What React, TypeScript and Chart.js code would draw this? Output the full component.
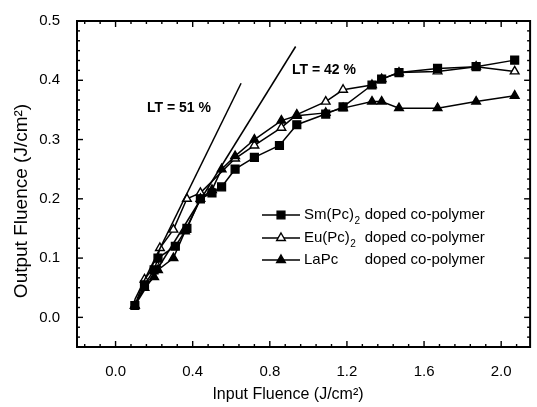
import React, { useEffect, useRef } from "react";
import { Chart, registerables } from "chart.js";

Chart.register(...registerables);

// ---------- data ----------
const smX = [0.1, 0.15, 0.2, 0.22, 0.31, 0.37, 0.44, 0.5, 0.55, 0.62, 0.72, 0.85, 0.94, 1.09, 1.18, 1.33, 1.38, 1.47, 1.67, 1.87, 2.07];
const smY = [0.02, 0.055, 0.08, 0.1, 0.12, 0.15, 0.2, 0.21, 0.22, 0.25, 0.27, 0.29, 0.325, 0.343, 0.355, 0.392, 0.402, 0.413, 0.42, 0.423, 0.434];

const euX = [0.1, 0.15, 0.21, 0.23, 0.3, 0.37, 0.44, 0.62, 0.72, 0.86, 0.94, 1.09, 1.18, 1.33, 1.38, 1.47, 1.67, 1.87, 2.07];
const euY = [0.02, 0.064, 0.09, 0.117, 0.148, 0.2, 0.21, 0.268, 0.29, 0.32, 0.342, 0.364, 0.384, 0.392, 0.402, 0.413, 0.415, 0.423, 0.415];

const laX = [0.1, 0.15, 0.2, 0.22, 0.3, 0.36, 0.44, 0.5, 0.55, 0.62, 0.72, 0.86, 0.94, 1.09, 1.18, 1.33, 1.38, 1.47, 1.67, 1.87, 2.07];
const laY = [0.02, 0.05, 0.068, 0.08, 0.1, 0.145, 0.2, 0.215, 0.25, 0.272, 0.3, 0.332, 0.34, 0.345, 0.353, 0.364, 0.364, 0.353, 0.353, 0.364, 0.374];

const lt51X = [0.1, 0.651];
const lt51Y = [0.03, 0.395];
const lt42X = [0.1, 0.934];
const lt42Y = [0.02, 0.457];

const xTicks = [0, 0.4, 0.8, 1.2, 1.6, 2.0];
const yTicks = [0, 0.1, 0.2, 0.3, 0.4, 0.5];
const xMinorStep = 0.08;
const yMinorStep = 0.1 / 6;

const xTitle = "Input Fluence (J/cm²)";
const yTitle = "Output Fluence (J/cm²)";
const lt51Label = "LT = 51 %";
const lt42Label = "LT = 42 %";
const legendNames = ["Sm(Pc)", "Eu(Pc)", "LaPc"];
const legendSubs = ["2", "2", ""];
const legendSuffix = "doped co-polymer";

const FONT = '"Liberation Sans", Arial, Helvetica, sans-serif';

function pts(xs: number[], ys: number[]) {
  return xs.map((x, i) => ({ x, y: ys[i] }));
}

function drawMarker(ctx: CanvasRenderingContext2D, style: string, x: number, y: number, r: number, fill: string) {
  ctx.save();
  ctx.beginPath();
  if (style === "rect") {
    const s = Math.SQRT1_2 * r;
    ctx.rect(x - s, y - s, 2 * s, 2 * s);
  } else {
    let rad = 0;
    const T = (2 * Math.PI) / 3;
    ctx.moveTo(x + Math.sin(rad) * r, y - Math.cos(rad) * r);
    rad += T;
    ctx.lineTo(x + Math.sin(rad) * r, y - Math.cos(rad) * r);
    rad += T;
    ctx.lineTo(x + Math.sin(rad) * r, y - Math.cos(rad) * r);
    ctx.closePath();
  }
  ctx.fillStyle = fill;
  ctx.fill();
  ctx.lineWidth = 1.4;
  ctx.strokeStyle = "#000";
  ctx.stroke();
  ctx.restore();
}

const decorPlugin = {
  id: "decor",
  afterDraw(chart: any) {
    const { ctx, chartArea } = chart;
    const xs = chart.scales.x;
    const ys = chart.scales.y;
    const { left, right, top, bottom } = chartArea;
    ctx.save();
    ctx.strokeStyle = "#000";
    ctx.fillStyle = "#000";

    // frame
    ctx.lineWidth = 2;
    ctx.strokeRect(left, top, right - left, bottom - top);

    // ticks (inward, all four sides)
    ctx.lineWidth = 1.4;
    const majorLen = 6;
    const minorLen = 3;
    const tick = (x1: number, y1: number, x2: number, y2: number) => {
      ctx.beginPath();
      ctx.moveTo(x1, y1);
      ctx.lineTo(x2, y2);
      ctx.stroke();
    };
    const isMajor = (v: number, arr: number[]) => arr.some((m) => Math.abs(m - v) < 1e-6);
    for (let k = -10; k < 60; k++) {
      const v = k * xMinorStep;
      if (v < xs.min - 1e-9 || v > xs.max + 1e-9) continue;
      const px = xs.getPixelForValue(v);
      const len = isMajor(v, xTicks) ? majorLen : minorLen;
      tick(px, bottom, px, bottom - len);
      tick(px, top, px, top + len);
    }
    for (let k = -10; k < 60; k++) {
      const v = k * yMinorStep;
      if (v < ys.min - 1e-9 || v > ys.max + 1e-9) continue;
      const py = ys.getPixelForValue(v);
      const len = isMajor(v, yTicks) ? majorLen : minorLen;
      tick(left, py, left + len, py);
      tick(right, py, right - len, py);
    }

    // axis titles
    ctx.textAlign = "center";
    ctx.textBaseline = "middle";
    ctx.font = `16px ${FONT}`;
    ctx.fillText(xTitle, 288, 395);
    ctx.save();
    ctx.translate(22, 201);
    ctx.rotate(-Math.PI / 2);
    ctx.font = `19px ${FONT}`;
    ctx.fillText(yTitle, 0, 0);
    ctx.restore();

    // LT labels
    ctx.font = `bold 14px ${FONT}`;
    ctx.textAlign = "left";
    ctx.fillText(lt51Label, 147, 108);
    ctx.fillText(lt42Label, 292, 70);

    // legend
    const markers = [
      { style: "rect", fill: "#000", r: 5.5 },
      { style: "triangle", fill: "#fff", r: 5 },
      { style: "triangle", fill: "#000", r: 5 },
    ];
    const rowsY = [215, 238, 260];
    const lineX1 = 262;
    const lineX2 = 300;
    const textX = 304;
    const subFont = `10px ${FONT}`;
    let suffixX = 0;
    legendNames.forEach((n, i) => {
      ctx.font = `15px ${FONT}`;
      let w = ctx.measureText(n).width;
      if (legendSubs[i]) {
        ctx.font = subFont;
        w += ctx.measureText(legendSubs[i]).width + 1;
      }
      ctx.font = `15px ${FONT}`;
      w += ctx.measureText(" ").width;
      suffixX = Math.max(suffixX, textX + w);
    });
    legendNames.forEach((n, i) => {
      const y = rowsY[i];
      ctx.lineWidth = 1.5;
      tick(lineX1, y, lineX2, y);
      drawMarker(ctx, markers[i].style, (lineX1 + lineX2) / 2, y, markers[i].r, markers[i].fill);
      ctx.fillStyle = "#000";
      ctx.textBaseline = "middle";
      ctx.font = `15px ${FONT}`;
      ctx.fillText(n, textX, y);
      const nw = ctx.measureText(n).width;
      if (legendSubs[i]) {
        ctx.font = subFont;
        ctx.fillText(legendSubs[i], textX + nw + 0.5, y + 6);
      }
      ctx.font = `15px ${FONT}`;
      ctx.fillText(legendSuffix, suffixX, y);
    });

    ctx.restore();
  },
};

export default function App() {
  const ref = useRef<HTMLCanvasElement | null>(null);

  useEffect(() => {
    document.body.style.margin = "0";
    if (!ref.current) return;
    const lineDs = (label: string, data: any[], style: string, fill: string, r: number) => ({
      label,
      data,
      showLine: true,
      borderColor: "#000",
      borderWidth: 1.5,
      pointStyle: style,
      pointRadius: r,
      pointBackgroundColor: fill,
      pointBorderColor: "#000",
      pointBorderWidth: 1.4,
      backgroundColor: fill,
      tension: 0,
    });
    const chart = new Chart(ref.current, {
      type: "scatter",
      data: {
        datasets: [
          { label: "LT51", data: pts(lt51X, lt51Y), showLine: true, borderColor: "#000", borderWidth: 1.5, pointRadius: 0 } as any,
          { label: "LT42", data: pts(lt42X, lt42Y), showLine: true, borderColor: "#000", borderWidth: 1.5, pointRadius: 0 } as any,
          lineDs("LaPc doped co-polymer", pts(laX, laY), "triangle", "#000", 5),
          lineDs("Sm(Pc)2 doped co-polymer", pts(smX, smY), "rect", "#000", 5.5),
          lineDs("Eu(Pc)2 doped co-polymer", pts(euX, euY), "triangle", "#fff", 5),
        ],
      },
      options: {
        animation: false,
        responsive: true,
        maintainAspectRatio: false,
        layout: { padding: { top: 21, right: 2, left: 0, bottom: 0 } },
        plugins: { legend: { display: false }, tooltip: { enabled: false } },
        scales: {
          x: {
            type: "linear",
            min: -0.2,
            max: 2.15,
            grid: { display: false },
            border: { display: false },
            afterBuildTicks: (s: any) => {
              s.ticks = xTicks.map((v) => ({ value: v }));
            },
            afterFit: (s: any) => {
              s.height = 60;
            },
            ticks: {
              padding: 8,
              color: "#000",
              font: { family: FONT, size: 15 },
              callback: (v: any) => Number(v).toFixed(1),
            },
          },
          y: {
            type: "linear",
            min: -0.05,
            max: 0.5,
            grid: { display: false },
            border: { display: false },
            afterBuildTicks: (s: any) => {
              s.ticks = yTicks.map((v) => ({ value: v }));
            },
            afterFit: (s: any) => {
              s.width = 77;
            },
            ticks: {
              padding: 9,
              color: "#000",
              font: { family: FONT, size: 15 },
              callback: (v: any) => Number(v).toFixed(1),
            },
          },
        },
      },
      plugins: [decorPlugin],
    });
    return () => chart.destroy();
  }, []);

  return (
    <div style={{ width: 537, height: 407, position: "relative", background: "#fff" }}>
      <canvas ref={ref} />
    </div>
  );
}
